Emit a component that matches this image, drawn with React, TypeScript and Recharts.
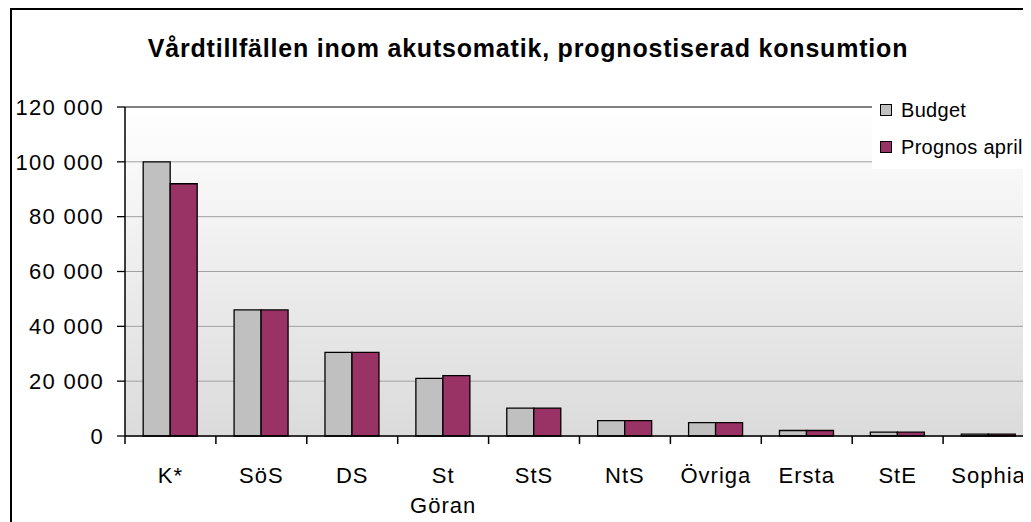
import { BarChart, Bar, XAxis, YAxis, CartesianGrid, ReferenceLine, Legend } from 'recharts'

const categories = ['K*', 'SöS', 'DS', 'St Göran', 'StS', 'NtS', 'Övriga', 'Ersta', 'StE', 'Sophia']
const budget = [100000, 46000, 30500, 21000, 10200, 5600, 4900, 2000, 1400, 700]
const prognos = [92000, 46000, 30500, 22000, 10200, 5600, 4900, 2000, 1400, 700]
const yTicks = [0, 20000, 40000, 60000, 80000, 100000, 120000]

const data = categories.map((name, i) => ({ name, budget: budget[i], prognos: prognos[i] }))

const FONT = "Arial, 'Liberation Sans', sans-serif"
const TICK = 8

const fmt = (v: number) => String(v).replace(/\B(?=(\d{3})+(?!\d))/g, ' ')

// category label + tick marks on the band edges (Excel style)
const CategoryTick = (props: any) => {
  const { x, y, payload, index, width, visibleTicksCount } = props
  const band = Number(width) / (visibleTicksCount || categories.length)
  const half = band / 2
  const words = String(payload.value).split(' ')
  return (
    <g>
      <line x1={x - half} x2={x - half} y1={y - TICK} y2={y} stroke="#000" strokeWidth={1.5} />
      {index === visibleTicksCount - 1 && (
        <line x1={x + half} x2={x + half} y1={y - TICK} y2={y} stroke="#000" strokeWidth={1.5} />
      )}
      <text x={x} y={y} textAnchor="middle" fill="#000" fontSize={22} fontFamily={FONT} style={{ letterSpacing: 1 }}>
        {words.map((w, i) => (
          <tspan key={i} x={x} dy={i === 0 ? 39 : 30}>{w}</tspan>
        ))}
      </text>
    </g>
  )
}

const LegendBox = () => {
  const items = [
    { label: 'Budget', color: '#C0C0C0' },
    { label: 'Prognos april', color: '#993366' },
  ]
  return (
    <div style={{ position: 'relative', background: '#fff', width: 200, height: 72, fontFamily: FONT, fontSize: 20, letterSpacing: 0.3 }}>
      {items.map((it, i) => (
        <div key={i} style={{ position: 'absolute', left: 8, top: 1 + i * 37, height: 24, display: 'flex', alignItems: 'center' }}>
          <span style={{ display: 'inline-block', width: 10, height: 10, background: it.color, border: '1px solid #000', marginRight: 9 }} />
          <span style={{ color: '#000', whiteSpace: 'nowrap' }}>{it.label}</span>
        </div>
      ))}
    </div>
  )
}

export default function App() {
  return (
    <div style={{ position: 'relative', width: 1023, height: 514, overflow: 'hidden', background: '#fff' }}>
      <div style={{ position: 'absolute', left: 2, top: 0, width: 1100, height: 600, border: '2px solid #000' }} />
      <div
        style={{
          position: 'absolute', left: 0, top: 25, width: 1040, textAlign: 'center', zIndex: 2,
          fontFamily: FONT, fontWeight: 'bold', fontSize: 25, lineHeight: '30px', color: '#000', letterSpacing: 0.8,
        }}
      >
        Vårdtillfällen inom akutsomatik, prognostiserad konsumtion
      </div>
      <BarChart
        width={1040}
        height={520}
        data={data}
        margin={{ top: 99, right: 14, left: 0, bottom: 0 }}
        barCategoryGap="20%"
        barGap={0}
      >
        <defs>
          <linearGradient id="plotBg" x1="0" y1="0" x2="0" y2="1">
            <stop offset="0%" stopColor="#ffffff" />
            <stop offset="100%" stopColor="#dbdbdb" />
          </linearGradient>
        </defs>
        <CartesianGrid vertical={false} stroke="#a0a0a0" fill="url(#plotBg)" />
        <XAxis
          dataKey="name"
          height={92}
          interval={0}
          tickSize={TICK}
          tickMargin={0}
          tickLine={false}
          axisLine={{ stroke: '#000', strokeWidth: 1.5 }}
          tick={<CategoryTick />}
        />
        <YAxis
          width={117}
          domain={[0, 120000]}
          ticks={yTicks}
          interval={0}
          tickSize={TICK}
          tickMargin={13}
          tickFormatter={fmt}
          axisLine={{ stroke: '#000', strokeWidth: 1.5 }}
          tickLine={{ stroke: '#000', strokeWidth: 1.3 }}
          tick={{ fill: '#000', fontSize: 22, fontFamily: FONT, letterSpacing: 1.3 }}
        />
        <ReferenceLine y={120000} stroke="#808080" strokeWidth={2} />
        <Legend
          layout="horizontal"
          verticalAlign="middle"
          align="center"
          content={<LegendBox />}
          wrapperStyle={{ left: 864, top: 89, width: 200, height: 72 }}
        />
        <Bar dataKey="budget" name="Budget" fill="#C0C0C0" stroke="#000" strokeWidth={1.3} isAnimationActive={false} />
        <Bar dataKey="prognos" name="Prognos april" fill="#993366" stroke="#000" strokeWidth={1.3} isAnimationActive={false} />
      </BarChart>
    </div>
  )
}
